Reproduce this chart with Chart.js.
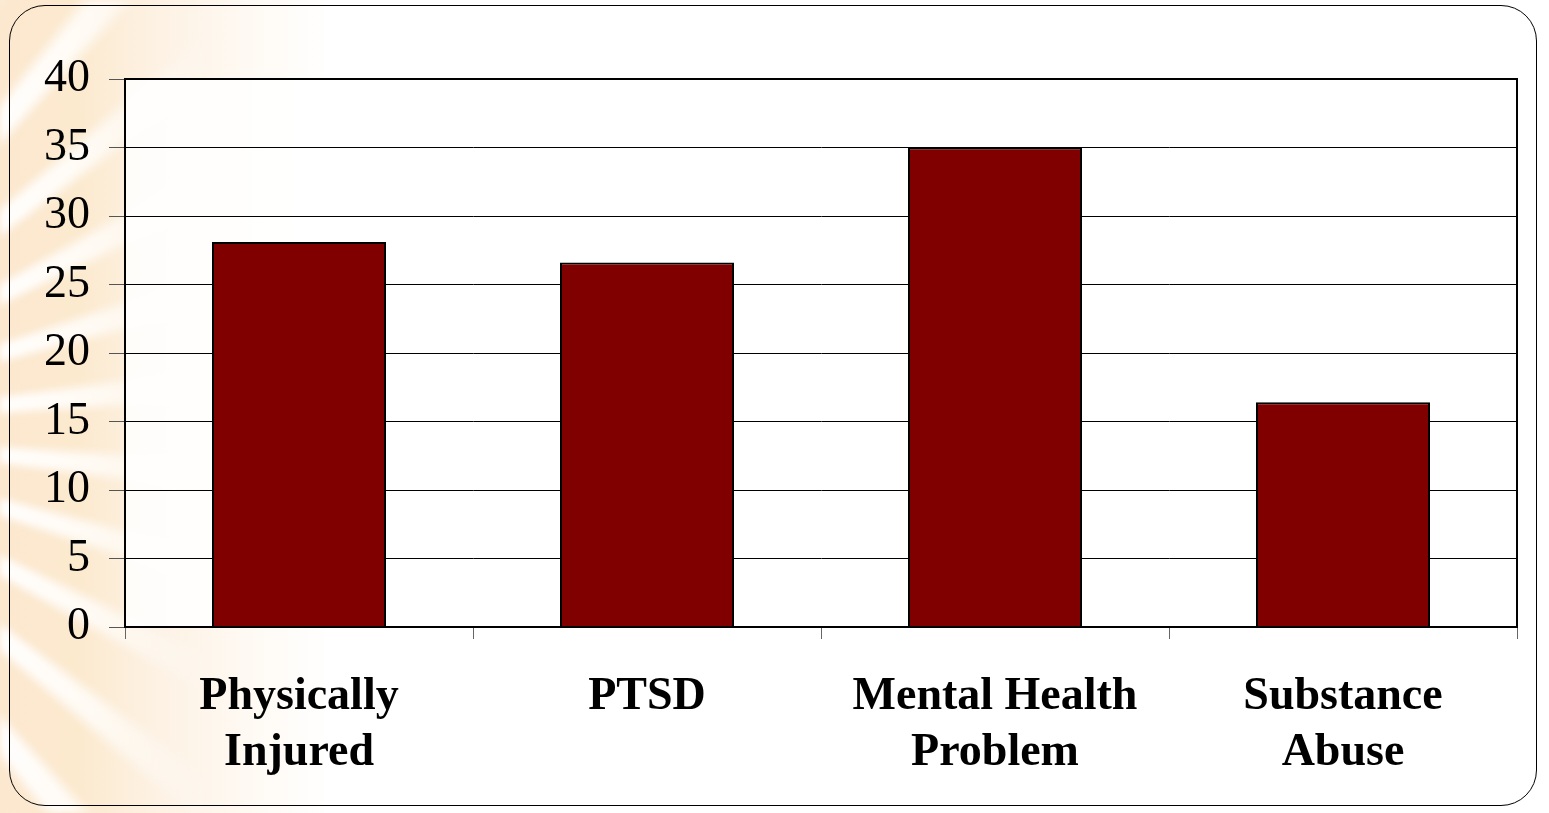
<!DOCTYPE html>
<html>
<head>
<meta charset="utf-8">
<script src="https://cdn.jsdelivr.net/npm/chart.js@4/dist/chart.umd.min.js"></script>
<style>
  html, body { margin: 0; padding: 0; width: 1549px; height: 813px; overflow: hidden; background: #ffffff; }
  #bg { position: absolute; left: 0; top: 0; width: 1549px; height: 813px;
        background: linear-gradient(to right, #fce8cf 0px, #fceacf 80px, #fdf1e2 150px, #fef8f0 230px, #ffffff 330px); }
  #rays { position: absolute; left: 0; top: 0; width: 400px; height: 813px;
          background: repeating-conic-gradient(from 0deg at -260px 430px,
              rgba(255,255,255,0) 0deg 5deg, rgba(255,255,255,0.95) 6.5deg 8.5deg, rgba(255,255,255,0) 10deg 11deg);
          -webkit-mask-image: linear-gradient(to right, rgba(0,0,0,1) 0px, rgba(0,0,0,0.8) 90px, rgba(0,0,0,0) 220px);
          mask-image: linear-gradient(to right, rgba(0,0,0,1) 0px, rgba(0,0,0,0.8) 90px, rgba(0,0,0,0) 220px);
          filter: blur(3px); }
  #panel { position: absolute; left: 9px; top: 5px; width: 1528px; height: 801px;
           border: 1.5px solid #000; border-radius: 36px; box-sizing: border-box; }
  #wrap { position: absolute; left: 0; top: 0; width: 1549px; height: 813px; }
</style>
</head>
<body>
<div id="bg"></div>
<div id="rays"></div>
<div id="panel"></div>
<div id="wrap"><canvas id="c" width="1549" height="813"></canvas></div>
<script>
const categories = [["Physically", "Injured"], ["PTSD"], ["Mental Health", "Problem"], ["Substance", "Abuse"]];
const values = [28.1, 26.6, 35, 16.4];
const yMin = 0;
const yMax = 40;
const yStep = 5;

const frame = {
  id: 'frame',
  beforeDraw(chart) {
    const a = chart.chartArea, ctx = chart.ctx;
    ctx.save();
    ctx.fillStyle = 'rgba(255,255,255,0.85)';
    ctx.fillRect(a.left, a.top, a.right - a.left, a.bottom - a.top);
    ctx.restore();
  },
  afterDraw(chart) {
    const a = chart.chartArea, ctx = chart.ctx;
    ctx.save();
    ctx.strokeStyle = '#000';
    ctx.lineWidth = 2;
    ctx.strokeRect(a.left, a.top, a.right - a.left, a.bottom - a.top);
    ctx.restore();
  }
};

new Chart(document.getElementById('c'), {
  type: 'bar',
  data: {
    labels: categories,
    datasets: [{
      data: values,
      backgroundColor: '#800000',
      borderColor: '#000000',
      borderWidth: 2,
      barPercentage: 0.5,
      categoryPercentage: 1
    }]
  },
  options: {
    responsive: false,
    animation: false,
    layout: { padding: { left: 0, top: 79, right: 32, bottom: 0 } },
    plugins: { legend: { display: false }, tooltip: { enabled: false } },
    scales: {
      y: {
        min: yMin, max: yMax,
        afterFit(s) { s.width = 125; },
        ticks: { stepSize: yStep, color: '#000', padding: 19,
                 font: { family: '"Liberation Serif", "Times New Roman", serif', size: 46 } },
        grid: { color: '#000', lineWidth: 1, tickLength: 16, tickColor: '#555' },
        border: { display: true, color: '#000', width: 2 }
      },
      x: {
        afterFit(s) { s.height = 186; },
        ticks: { color: '#000', padding: 30,
                 font: { family: '"Liberation Serif", "Times New Roman", serif', size: 46, weight: 'bold', lineHeight: 56/46 } },
        grid: { offset: true, drawOnChartArea: false, tickLength: 12, tickColor: '#666' },
        border: { display: true, color: '#000', width: 2 }
      }
    }
  },
  plugins: [frame]
});
</script>
</body>
</html>
